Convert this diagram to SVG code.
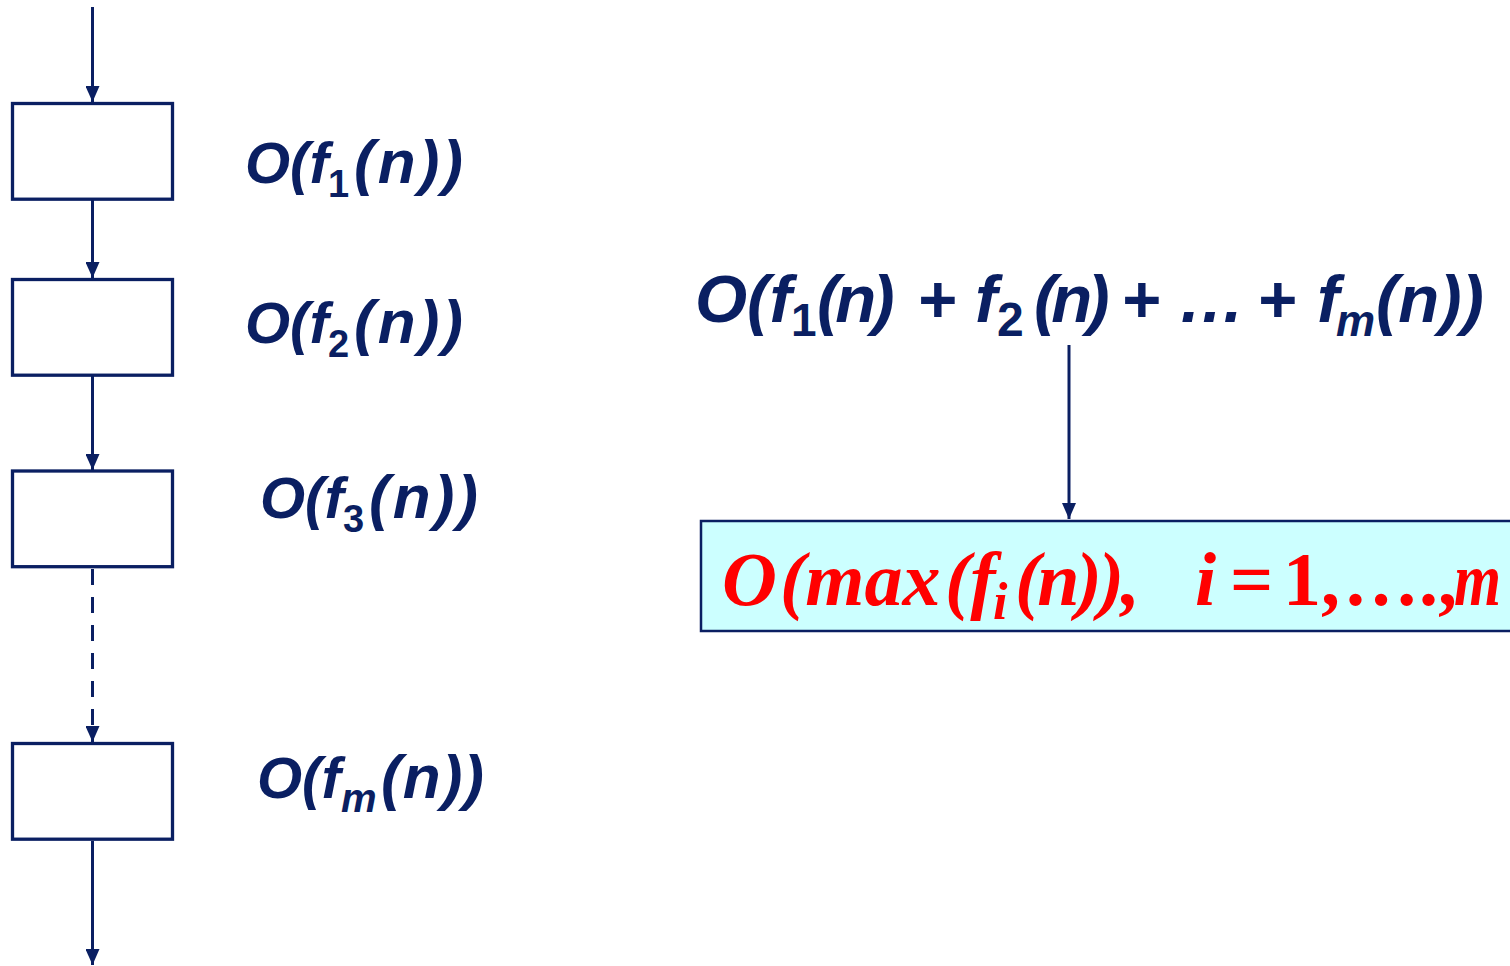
<svg xmlns="http://www.w3.org/2000/svg" width="1510" height="966" viewBox="0 0 1510 966">
  <style>
    .box { fill: #ffffff; stroke: #0a1f62; stroke-width: 3.3; }
    .edge { stroke: #0a1f62; stroke-width: 3; fill: none; }
    .lbl { font-family: "Liberation Sans", Arial, sans-serif; font-weight: bold; font-style: italic; fill: #0a1f62; }
    .red { font-family: "Liberation Serif", "Times New Roman", serif; font-weight: bold; font-style: italic; fill: #ff0000; }
    .up { font-style: normal; }
  </style>
  <defs>
    <marker id="arr" markerUnits="userSpaceOnUse" markerWidth="16" markerHeight="14" refX="16" refY="7" orient="auto">
      <path d="M0,0 L16,7 L0,14 z" fill="#0a1f62"/>
    </marker>
  </defs>

  <g id="connectors">
    <line class="edge" x1="92.5" y1="7" x2="92.5" y2="102" marker-end="url(#arr)"/>
    <line class="edge" x1="92.5" y1="200" x2="92.5" y2="278" marker-end="url(#arr)"/>
    <line class="edge" x1="92.5" y1="376" x2="92.5" y2="470" marker-end="url(#arr)"/>
    <line class="edge" x1="92.5" y1="569" x2="92.5" y2="742" stroke-dasharray="16 12" marker-end="url(#arr)"/>
    <line class="edge" x1="92.5" y1="841" x2="92.5" y2="965" marker-end="url(#arr)"/>
    <line class="edge" x1="1069" y1="345" x2="1069" y2="519" stroke-width="2.5" marker-end="url(#arr)"/>
  </g>

  <g id="node1">
    <rect class="box" x="12.5" y="103.5" width="160" height="95.7"/>
  </g>
  <g id="node2">
    <rect class="box" x="12.5" y="279.5" width="160" height="95.7"/>
  </g>
  <g id="node3">
    <rect class="box" x="12.5" y="471" width="160" height="95.7"/>
  </g>
  <g id="node4">
    <rect class="box" x="12.5" y="743.5" width="160" height="95.7"/>
  </g>

  <g id="label1">
    <text class="lbl" font-size="58"><tspan x="245" y="183">O(f</tspan><tspan class="up" x="328" y="197" font-size="38">1</tspan><tspan x="354" y="183" font-size="62" textLength="109" lengthAdjust="spacing">(n))</tspan></text>
  </g>
  <g id="label2">
    <text class="lbl" font-size="58"><tspan x="245" y="343">O(f</tspan><tspan class="up" x="328" y="357" font-size="38">2</tspan><tspan x="354" y="343" font-size="62" textLength="109" lengthAdjust="spacing">(n))</tspan></text>
  </g>
  <g id="label3">
    <text class="lbl" font-size="58"><tspan x="260" y="518">O(f</tspan><tspan class="up" x="343" y="532" font-size="38">3</tspan><tspan x="369" y="518" font-size="62" textLength="109" lengthAdjust="spacing">(n))</tspan></text>
  </g>
  <g id="label4">
    <text class="lbl" font-size="58"><tspan x="257" y="798">O(f</tspan><tspan x="341" y="812" font-size="40">m</tspan><tspan x="381" y="798" font-size="62" textLength="103" lengthAdjust="spacing">(n))</tspan></text>
  </g>

  <g id="sum">
    <text class="lbl" font-size="67"><tspan x="695" y="322">O(f</tspan><tspan class="up" x="791" y="336" font-size="46">1</tspan><tspan x="817" y="322" letter-spacing="-4">(n)</tspan><tspan x="917" y="322">+</tspan><tspan x="975" y="322">f</tspan><tspan class="up" x="997" y="336" font-size="48">2</tspan><tspan x="1034" y="322" letter-spacing="-5">(n)</tspan><tspan x="1121" y="322">+</tspan><tspan x="1178" y="322">…</tspan><tspan x="1257" y="322">+</tspan><tspan x="1317" y="322">f</tspan><tspan x="1336" y="336" font-size="44">m</tspan><tspan x="1376" y="322">(n))</tspan></text>
  </g>

  <g id="result">
    <rect x="701" y="521" width="820" height="110" fill="#ccffff" stroke="#0a1f62" stroke-width="2.5"/>
    <text class="red" font-size="76"><tspan x="722" y="605">O</tspan><tspan x="780" y="605">(max</tspan><tspan x="945" y="605">(f</tspan><tspan x="993" y="619" font-size="52">i</tspan><tspan x="1015" y="605" textLength="125" lengthAdjust="spacing">(n)),</tspan><tspan x="1195" y="605">i</tspan><tspan class="up" x="1230" y="605">=</tspan><tspan class="up" x="1283" y="605">1,</tspan><tspan class="up" x="1343" y="605">….,</tspan><tspan x="1454" y="605" textLength="47" lengthAdjust="spacingAndGlyphs">m</tspan></text>
  </g>
</svg>
